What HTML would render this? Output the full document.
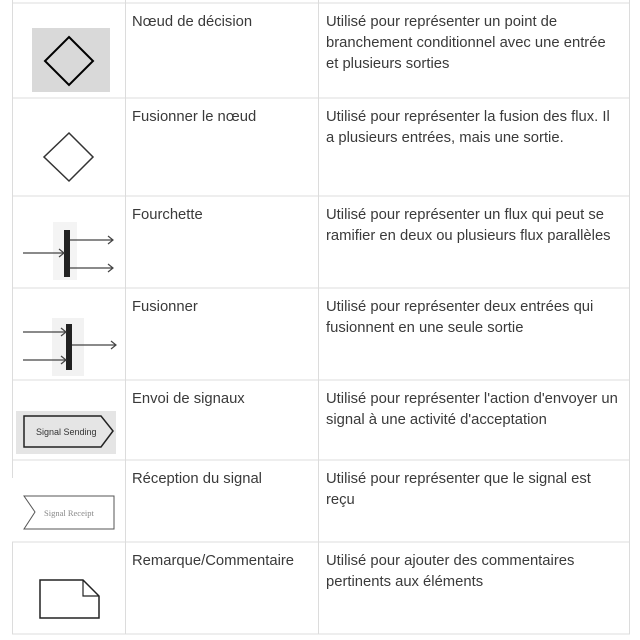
<!DOCTYPE html>
<html><head><meta charset="utf-8"><style>
html,body{margin:0;padding:0;background:#fff;width:640px;height:640px;overflow:hidden}
text{font-family:"Liberation Sans",sans-serif;font-size:14.8px;fill:#3a3a3a}
</style></head><body>
<svg width="640" height="640" viewBox="0 0 640 640" xmlns="http://www.w3.org/2000/svg">
<g stroke="#dcdcdc" stroke-width="1" fill="none">
<line x1="12" y1="3" x2="630" y2="3"/>
<line x1="12" y1="98" x2="630" y2="98"/>
<line x1="12" y1="196" x2="630" y2="196"/>
<line x1="12" y1="288" x2="630" y2="288"/>
<line x1="12" y1="380" x2="630" y2="380"/>
<line x1="12" y1="460" x2="630" y2="460"/>
<line x1="12" y1="542" x2="630" y2="542"/>
<line x1="12" y1="634" x2="630" y2="634"/>
<line x1="12.5" y1="0" x2="12.5" y2="478"/>
<line x1="12.5" y1="542" x2="12.5" y2="634"/>
<line x1="125.5" y1="0" x2="125.5" y2="634"/>
<line x1="318.5" y1="0" x2="318.5" y2="634"/>
<line x1="629.5" y1="0" x2="629.5" y2="634"/>
</g>
<rect x="32" y="28" width="78" height="64" fill="#d9d9d9"/>
<polygon points="69,37 93,61 69,85 45,61" fill="none" stroke="#000" stroke-width="2"/>
<polygon points="69,133 93,157 69,181 44,157" fill="#fff" stroke="#333" stroke-width="1.5"/>
<rect x="53" y="222" width="24" height="58" fill="#f4f4f4"/>
<rect x="64" y="230" width="6" height="47" fill="#222"/>
<g stroke="#444" stroke-width="1.2" fill="none">
<line x1="23" y1="253" x2="64" y2="253"/><polyline points="59,249 64,253 59,257"/>
<line x1="70" y1="240" x2="113" y2="240"/><polyline points="108,236 113,240 108,244"/>
<line x1="70" y1="268" x2="113" y2="268"/><polyline points="108,264 113,268 108,272"/>
</g>
<rect x="52" y="318" width="32" height="58" fill="#f2f2f2"/>
<rect x="66" y="324" width="6" height="46" fill="#222"/>
<g stroke="#444" stroke-width="1.2" fill="none">
<line x1="23" y1="332" x2="66" y2="332"/><polyline points="61,328 66,332 61,336"/>
<line x1="23" y1="360" x2="66" y2="360"/><polyline points="61,356 66,360 61,364"/>
<line x1="72" y1="345" x2="116" y2="345"/><polyline points="111,341 116,345 111,349"/>
</g>
<rect x="16" y="411" width="100" height="43" fill="#e5e5e5"/>
<polygon points="24,416 101,416 113,431 101,447 24,447" fill="none" stroke="#222" stroke-width="1.5"/>
<text x="36" y="435" style="font-size:9px;fill:#333">Signal Sending</text>
<polygon points="24,496 114,496 114,529 24,529 35,512" fill="#fff" stroke="#555" stroke-width="1"/>
<text x="44" y="516" style="font-family:'Liberation Serif',serif;font-size:8.5px;fill:#888">Signal Receipt</text>
<polygon points="40,580 83,580 99,596 99,618 40,618" fill="#fff" stroke="#222" stroke-width="1.5"/>
<polyline points="83,580 83,596 99,596" fill="none" stroke="#222" stroke-width="1.2"/>
<text x="132" y="26">Nœud de décision</text>
<text x="132" y="121">Fusionner le nœud</text>
<text x="132" y="219">Fourchette</text>
<text x="132" y="311">Fusionner</text>
<text x="132" y="403">Envoi de signaux</text>
<text x="132" y="483">Réception du signal</text>
<text x="132" y="565">Remarque/Commentaire</text>
<text x="326" y="26">Utilisé pour représenter un point de</text>
<text x="326" y="47">branchement conditionnel avec une entrée</text>
<text x="326" y="68">et plusieurs sorties</text>
<text x="326" y="121">Utilisé pour représenter la fusion des flux. Il</text>
<text x="326" y="142">a plusieurs entrées, mais une sortie.</text>
<text x="326" y="219">Utilisé pour représenter un flux qui peut se</text>
<text x="326" y="240">ramifier en deux ou plusieurs flux parallèles</text>
<text x="326" y="311">Utilisé pour représenter deux entrées qui</text>
<text x="326" y="332">fusionnent en une seule sortie</text>
<text x="326" y="403">Utilisé pour représenter l'action d'envoyer un</text>
<text x="326" y="424">signal à une activité d'acceptation</text>
<text x="326" y="483">Utilisé pour représenter que le signal est</text>
<text x="326" y="504">reçu</text>
<text x="326" y="565">Utilisé pour ajouter des commentaires</text>
<text x="326" y="586">pertinents aux éléments</text>
</svg>
</body></html>
